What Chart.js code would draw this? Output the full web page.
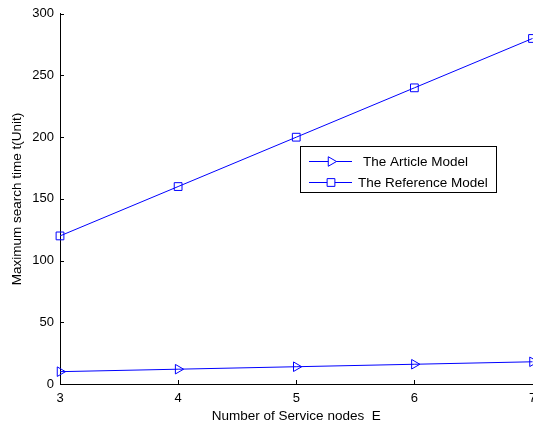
<!DOCTYPE html>
<html>
<head>
<meta charset="utf-8">
<script src="https://cdn.jsdelivr.net/npm/chart.js@4/dist/chart.umd.min.js"></script>
<style>
  html, body { margin: 0; padding: 0; background: #fff; overflow: hidden; }
  #wrap { width: 539px; height: 422px; }
</style>
</head>
<body>
<div id="wrap"><canvas id="canvas"></canvas></div>
<script>
var nodes = [3, 4, 5, 6, 7];
var articleModel = [10, 12, 14, 16, 18];
var referenceModel = [120, 160, 200, 240, 280];
var seriesNames = ['The Article Model', 'The Reference Model'];

var FONT = 'Liberation Sans, Arial, sans-serif';

function pts(ys) {
    return nodes.map(function(x, i) { return {x: x, y: ys[i]}; });
}

// matlab style inward ticks on the left and bottom axes
var innerTicks = {
    id: 'innerTicks',
    afterDraw: function(chart) {
        var ctx = chart.ctx, a = chart.chartArea;
        var xs = chart.scales.x, ys = chart.scales.y;
        ctx.save();
        ctx.strokeStyle = '#000';
        ctx.lineWidth = 1;
        ctx.beginPath();
        xs.ticks.forEach(function(t) {
            var px = Math.round(xs.getPixelForValue(t.value)) + 0.5;
            ctx.moveTo(px, a.bottom);
            ctx.lineTo(px, a.bottom - 4);
        });
        ys.ticks.forEach(function(t) {
            var py = Math.round(ys.getPixelForValue(t.value)) + 0.5;
            ctx.moveTo(a.left, py);
            ctx.lineTo(a.left + 4, py);
        });
        ctx.stroke();
        ctx.restore();
    }
};

// boxed legend with line + marker
var boxLegend = {
    id: 'boxLegend',
    afterDraw: function(chart) {
        var ctx = chart.ctx;
        var bx = 300.5, by = 146.5, bw = 196, bh = 46;
        ctx.save();
        ctx.fillStyle = '#fff';
        ctx.fillRect(bx, by, bw, bh);
        ctx.strokeStyle = '#000';
        ctx.lineWidth = 1;
        ctx.strokeRect(bx, by, bw, bh);
        var rows = [161, 182];
        chart.data.datasets.forEach(function(ds, i) {
            var y = rows[i];
            ctx.strokeStyle = ds.borderColor;
            ctx.lineWidth = 1;
            ctx.beginPath();
            ctx.moveTo(309, y + 0.5);
            ctx.lineTo(352, y + 0.5);
            ctx.stroke();
            ctx.fillStyle = '#fff';
            Chart.helpers.drawPoint(ctx, {
                pointStyle: ds.pointStyle,
                rotation: ds.pointRotation || 0,
                radius: ds.pointRadius,
                borderWidth: 1
            }, 331, y + 0.5);
            ctx.fillStyle = '#000';
            ctx.font = '13.5px ' + FONT;
            ctx.textBaseline = 'middle';
            ctx.fillText(ds.label, i === 0 ? 363 : 358, y + 1);
        });
        ctx.restore();
    }
};

var ctx = document.getElementById('canvas').getContext('2d');
var myChart = new Chart(ctx, {
    type: 'line',
    data: {
        datasets: [{
            label: seriesNames[0],
            data: pts(articleModel),
            borderColor: '#0000ff',
            backgroundColor: 'transparent',
            borderWidth: 1,
            pointStyle: 'triangle',
            pointRotation: 90,
            pointRadius: 5.5,
            pointBorderWidth: 1,
            pointBackgroundColor: 'transparent',
            pointBorderColor: '#0000ff',
            tension: 0
        }, {
            label: seriesNames[1],
            data: pts(referenceModel),
            borderColor: '#0000ff',
            backgroundColor: 'transparent',
            borderWidth: 1,
            pointStyle: 'rect',
            pointRadius: 5.5,
            pointBorderWidth: 1,
            pointBackgroundColor: 'transparent',
            pointBorderColor: '#0000ff',
            tension: 0
        }]
    },
    options: {
        responsive: true,
        maintainAspectRatio: false,
        animation: false,
        devicePixelRatio: 1,
        clip: false,
        layout: { padding: { top: 11, right: 2, left: 0, bottom: 0 } },
        plugins: {
            legend: { display: false },
            tooltip: { enabled: false }
        },
        scales: {
            x: {
                type: 'linear',
                min: 3,
                max: 7,
                ticks: {
                    stepSize: 1,
                    color: '#000',
                    padding: 7,
                    maxRotation: 0,
                    font: { family: FONT, size: 13 }
                },
                grid: { display: true, drawOnChartArea: false, drawTicks: false, color: '#000' },
                border: { display: true, color: '#000', width: 1 },
                title: {
                    display: true,
                    text: 'Number of Service nodes  E',
                    color: '#000',
                    padding: { top: 0, bottom: -2 },
                    font: { family: FONT, size: 13.5 }
                },
                afterFit: function(s) { s.height = 38; s.paddingRight = 0; s.paddingLeft = 0; }
            },
            y: {
                min: 0,
                max: 300,
                ticks: {
                    stepSize: 50,
                    color: '#000',
                    padding: 6,
                    font: { family: FONT, size: 13 }
                },
                grid: { display: true, drawOnChartArea: false, drawTicks: false, color: '#000' },
                border: { display: true, color: '#000', width: 1 },
                title: {
                    display: true,
                    text: 'Maximum search time t(Unit)',
                    color: '#000',
                    padding: { top: 9, bottom: 0 },
                    font: { family: FONT, size: 13.5 }
                },
                afterFit: function(s) { s.width = 60; }
            }
        }
    },
    plugins: [innerTicks, boxLegend]
});
</script>
</body>
</html>
